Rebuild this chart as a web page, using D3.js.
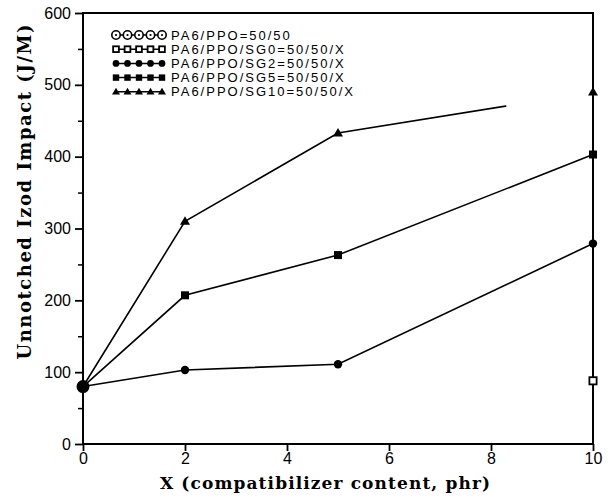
<!DOCTYPE html>
<html>
<head>
<meta charset="utf-8">
<script src="https://cdn.jsdelivr.net/npm/d3@7"></script>
<style>
	body{margin:0;background:#fff;}
	svg{display:block;}
</style>
</head>
<body>
<div id="chart-div"></div>
<script>
// data
var xTicks=[0,2,4,6,8,10];
var yTicks=[0,100,200,300,400,500,600];
var yMinorTicks=[50,150,250,350,450,550];
var seriesNames=["PA6/PPO=50/50","PA6/PPO/SG0=50/50/X","PA6/PPO/SG2=50/50/X","PA6/PPO/SG5=50/50/X","PA6/PPO/SG10=50/50/X"];
var seriesMarkers=["opencircle","opensquare","circle","square","triangle"];
var seriesLined=[false,false,true,true,true];
var xPA6PPO=[0];
var yPA6PPO=[80];
var xSG0=[0,10];
var ySG0=[80,88];
var xSG2=[0,2,5,10];
var ySG2=[80,103,111,279];
var xSG5=[0,2,5,10];
var ySG5=[80,207,263,403];
var xSG10=[0,2,5,10];
var ySG10=[80,310,433,490];
// the printed SG10 line fades out past this x
var sg10LineEnd=8.3;

var seriesX=[xPA6PPO,xSG0,xSG2,xSG5,xSG10];
var seriesY=[yPA6PPO,ySG0,ySG2,ySG5,ySG10];

var width=610, height=499;
var padding={left:83, right:17, top:13, bottom:55};

var svg=d3.select("#chart-div").append("svg")
	.attr("width",width)
	.attr("height",height);

var x_scale=d3.scaleLinear().domain([0,10]).range([padding.left,width-padding.right]);
var y_scale=d3.scaleLinear().domain([0,600]).range([height-padding.bottom,padding.top]);

function drawMarker(g,type,cx,cy,big){
	var s=big?1:0.8;
	if(type=="opencircle"){
		g.append("circle").attr("cx",cx).attr("cy",cy).attr("r",(big?5.2:4.2))
			.attr("fill","#fff").attr("stroke","#000").attr("stroke-width",big?2.6:1.6);
		g.append("circle").attr("cx",cx).attr("cy",cy).attr("r",1.4*s).attr("fill","#000");
	}else if(type=="opensquare"){
		g.append("rect").attr("x",cx-3.6*s).attr("y",cy-3.6*s).attr("width",7.2*s).attr("height",7.2*s)
			.attr("fill","#fff").attr("stroke","#000").attr("stroke-width",1.8);
	}else if(type=="circle"){
		g.append("circle").attr("cx",cx).attr("cy",cy).attr("r",4.2*s).attr("fill","#000");
	}else if(type=="square"){
		g.append("rect").attr("x",cx-4*s).attr("y",cy-4*s).attr("width",8*s).attr("height",8*s).attr("fill","#000");
	}else if(type=="triangle"){
		var r=5*s;
		g.append("path")
			.attr("d","M"+cx+","+(cy-r)+"L"+(cx+r)+","+(cy+r*0.7)+"L"+(cx-r)+","+(cy+r*0.7)+"Z")
			.attr("fill","#000");
	}
}

// axes
var yAxis=d3.axisLeft(y_scale).tickValues(yTicks).tickSize(8).tickPadding(4).tickFormat(d3.format("d"));
var yg=svg.append("g").attr("transform","translate("+padding.left+",0)").call(yAxis);
yg.select(".domain").remove();
yg.selectAll(".tick line").attr("stroke","#000").attr("stroke-width",1.8);
yg.selectAll("text").style("font-family","'Liberation Sans',Arial,sans-serif").style("font-size","16px").attr("fill","#000");

var yMinor=d3.axisLeft(y_scale).tickValues(yMinorTicks).tickSize(5).tickFormat("");
var ymg=svg.append("g").attr("transform","translate("+padding.left+",0)").call(yMinor);
ymg.select(".domain").remove();
ymg.selectAll(".tick line").attr("stroke","#000").attr("stroke-width",1.5);

var xAxis=d3.axisBottom(x_scale).tickValues(xTicks).tickSize(7).tickPadding(2).tickFormat(d3.format("d"));
var xg=svg.append("g").attr("transform","translate(0,"+(height-padding.bottom)+")").call(xAxis);
xg.select(".domain").remove();
xg.selectAll(".tick line").attr("stroke","#000").attr("stroke-width",1.8);
xg.selectAll("text").style("font-family","'Liberation Sans',Arial,sans-serif").style("font-size","16px").attr("fill","#000");

// frame
svg.append("rect")
	.attr("x",x_scale(0)).attr("y",y_scale(600))
	.attr("width",x_scale(10)-x_scale(0)).attr("height",y_scale(0)-y_scale(600))
	.attr("fill","none").attr("stroke","#000").attr("stroke-width",2);

svg.append("clipPath").attr("id","sg10clip")
	.append("rect")
	.attr("x",0).attr("y",0)
	.attr("width",x_scale(sg10LineEnd)).attr("height",height);

// lines
var lineGen=d3.line()
	.x(function(d){return x_scale(d[0]);})
	.y(function(d){return y_scale(d[1]);});
for(var k=0;k<seriesNames.length;k++){
	if(!seriesLined[k]) continue;
	var pts=seriesX[k].map(function(v,i){return [v,seriesY[k][i]];});
	var p=svg.append("path").attr("d",lineGen(pts))
		.attr("fill","none").attr("stroke","#000").attr("stroke-width",1.6);
	if(k==4) p.attr("clip-path","url(#sg10clip)");
}
// points
var pg=svg.append("g").attr("class","points");
for(var k=0;k<seriesNames.length;k++){
	for(var i=0;i<seriesX[k].length;i++){
		drawMarker(pg,seriesMarkers[k],x_scale(seriesX[k][i]),y_scale(seriesY[k][i]),true);
	}
}

// legend
var legend=svg.append("g").attr("class","legend");
for(var k=0;k<seriesNames.length;k++){
	var ly=35+14.2*k;
	legend.append("line").attr("x1",115).attr("x2",163).attr("y1",ly).attr("y2",ly)
		.attr("stroke","#000").attr("stroke-width",1.5);
	for(var m=0;m<5;m++){
		drawMarker(legend,seriesMarkers[k],116+m*11.5,ly,false);
	}
	legend.append("text").attr("x",171).attr("y",ly+4.6)
		.style("font-family","'Liberation Sans',Arial,sans-serif")
		.style("font-size","13px")
		.style("letter-spacing","2px")
		.text(seriesNames[k]);
}

// axis titles
svg.append("text")
	.attr("x",325).attr("y",489)
	.attr("text-anchor","middle")
	.style("font-family","'DejaVu Serif',serif")
	.style("font-weight","bold")
	.style("font-size","17px")
	.attr("textLength",330)
	.text("X (compatibilizer content, phr)");
svg.append("text")
	.attr("transform","translate(31,192) rotate(-90)")
	.attr("text-anchor","middle")
	.style("font-family","'DejaVu Serif',serif")
	.style("font-weight","bold")
	.style("font-size","18px")
	.attr("textLength",335)
	.text("Unnotched Izod Impact (J/M)");
</script>
</body>
</html>
